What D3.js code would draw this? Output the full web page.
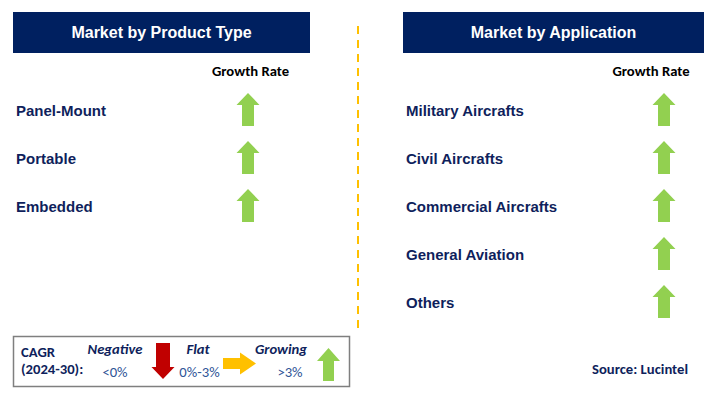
<!DOCTYPE html>
<html><head><meta charset="utf-8">
<script src="https://cdn.jsdelivr.net/npm/d3@7"></script>
<style>html,body{margin:0;padding:0;background:#fff}svg{display:block}</style>
</head><body>
<script>
const productTypes = ["Panel-Mount", "Portable", "Embedded"];
const productGrowth = ["up", "up", "up"];
const applications = ["Military Aircrafts", "Civil Aircrafts", "Commercial Aircrafts", "General Aviation", "Others"];
const applicationGrowth = ["up", "up", "up", "up", "up"];
const panelTitles = ["Market by Product Type", "Market by Application"];
const columnTitle = "Growth Rate";
const legendLabels = ["Negative", "Flat", "Growing"];
const legendRanges = ["<0%", "0%-3%", ">3%"];
const legendDirs = ["down", "right", "up"];
const cagrLabel = ["CAGR", "(2024-30):"];
const sourceText = "Source: Lucintel";

const W = 712, H = 402;
const NAVY = "#002060", TEXT = "#0F1F5C", GREEN = "#92D050", RED = "#C00000", YELLOW = "#FFC000";
const ARIAL = "'Liberation Sans', Arial, sans-serif";
const CAL = "Carlito, Calibri, 'Open Sans', 'Noto Sans', sans-serif";
const colors = {up: GREEN, down: RED, right: YELLOW};

const svg = d3.select("body").append("svg").attr("width", W).attr("height", H);

function arrowPath(cx, cy, w, h, dir, shaftW, headL) {
  const p = d3.path();
  const hw = w / 2, sw = shaftW / 2, hl = h / 2;
  let pts = [[0, -hl], [hw, -hl + headL], [sw, -hl + headL], [sw, hl], [-sw, hl], [-sw, -hl + headL], [-hw, -hl + headL]];
  let rot = {up: 0, down: 180, right: 90}[dir] * Math.PI / 180;
  pts = pts.map(([x, y]) => [cx + x * Math.cos(rot) - y * Math.sin(rot), cy + x * Math.sin(rot) + y * Math.cos(rot)]);
  p.moveTo(pts[0][0], pts[0][1]);
  pts.slice(1).forEach(q => p.lineTo(q[0], q[1]));
  p.closePath();
  return p.toString();
}

const panels = [
  {title: panelTitles[0], items: productTypes, growth: productGrowth, x0: 13, x1: 310, labelX: 16, arrowX: 248, colX: 250.5},
  {title: panelTitles[1], items: applications, growth: applicationGrowth, x0: 403, x1: 704, labelX: 406, arrowX: 664, colX: 651}
];

panels.forEach(pn => {
  const g = svg.append("g");
  g.append("rect").attr("x", pn.x0).attr("y", 12).attr("width", pn.x1 - pn.x0).attr("height", 41).attr("fill", NAVY);
  g.append("text").attr("x", (pn.x0 + pn.x1) / 2).attr("y", 38).attr("text-anchor", "middle")
    .attr("fill", "#fff").attr("font-family", ARIAL).attr("font-weight", "bold").attr("font-size", 16).text(pn.title);
  g.append("text").attr("x", pn.colX).attr("y", 76).attr("text-anchor", "middle")
    .attr("fill", "#000").attr("font-family", CAL).attr("font-size", 14.67).attr("font-weight", 600).text(columnTitle);
  const y = d3.scalePoint().domain(pn.items).range([110, 110 + 48 * (pn.items.length - 1)]);
  pn.items.forEach((it, i) => {
    g.append("text").attr("x", pn.labelX).attr("y", y(it) + 6).attr("fill", TEXT)
      .attr("font-family", ARIAL).attr("font-weight", "bold").attr("font-size", 15).text(it);
    g.append("path").attr("d", arrowPath(pn.arrowX, y(it) - 0.5, 23, 33, pn.growth[i], 12, 12))
      .attr("fill", colors[pn.growth[i]]);
  });
});

svg.append("line").attr("x1", 358).attr("x2", 358).attr("y1", 26).attr("y2", 330)
  .attr("stroke", YELLOW).attr("stroke-width", 2).attr("stroke-dasharray", "8,6");

const lg = svg.append("g");
lg.append("rect").attr("x", 13.5).attr("y", 336.5).attr("width", 336).attr("height", 50)
  .attr("fill", "#fff").attr("stroke", "#7F7F7F").attr("stroke-width", 1.5);
cagrLabel.forEach((t, i) => lg.append("text").attr("x", 21).attr("y", 357 + i * 16.5).attr("fill", TEXT)
  .attr("font-family", CAL).attr("font-weight", 600).attr("font-size", 14.67).text(t));
const lx = d3.scalePoint().domain(legendLabels).range([115, 281]);
const rangeShift = [0, 1.5, 9];
legendLabels.forEach((l, i) => {
  lg.append("text").attr("x", lx(l)).attr("y", 354).attr("text-anchor", "middle").attr("fill", TEXT)
    .attr("font-family", CAL).attr("font-weight", "bold").attr("font-style", "italic").attr("font-size", 14.67).text(l);
  lg.append("text").attr("x", lx(l) + rangeShift[i]).attr("y", 377).attr("text-anchor", "middle").attr("fill", "#2F5597")
    .attr("font-family", CAL).attr("font-size", 14.67).text(legendRanges[i]);
});
lg.append("path").attr("d", arrowPath(163, 361, 23, 36, legendDirs[0], 14, 12)).attr("fill", RED);
lg.append("path").attr("d", arrowPath(239.5, 363.5, 22, 33, legendDirs[1], 11, 16)).attr("fill", YELLOW);
lg.append("path").attr("d", arrowPath(328.5, 364.5, 23, 33, legendDirs[2], 11, 13)).attr("fill", GREEN);

svg.append("text").attr("x", 688).attr("y", 374).attr("text-anchor", "end").attr("fill", TEXT)
  .attr("font-family", CAL).attr("font-weight", "bold").attr("font-size", 14.67).text(sourceText);
</script>
</body></html>
